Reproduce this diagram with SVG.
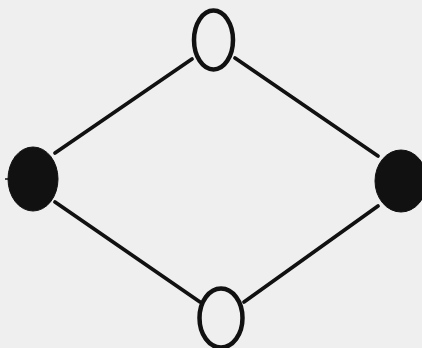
<svg xmlns="http://www.w3.org/2000/svg" width="422" height="348" viewBox="0 0 422 348">
<style>
.edge{stroke:#111;stroke-width:3.8;fill:none;stroke-linecap:round}
.open{fill:none;stroke:#111;stroke-width:4.5}
.full{fill:#111;stroke:#111;stroke-width:1}
</style>
<rect width="422" height="348" fill="#efeff0"/>
<g id="connectors">
<line class="edge" x1="192" y1="59" x2="55" y2="153"/>
<line class="edge" x1="235" y1="58" x2="378" y2="156"/>
<line class="edge" x1="55" y1="202" x2="200" y2="302"/>
<line class="edge" x1="378" y1="206" x2="244" y2="302"/>
</g>
<g id="node-top"><ellipse class="open" cx="213.5" cy="40" rx="19.5" ry="29.5"/></g>
<g id="node-left"><ellipse class="full" cx="33" cy="179" rx="25" ry="32"/><line x1="5" y1="179" x2="9" y2="179" stroke="#111" stroke-width="1.5"/></g>
<g id="node-right"><ellipse class="full" cx="401" cy="181" rx="26" ry="31"/></g>
<g id="node-bottom"><ellipse class="open" cx="221" cy="318" rx="21.5" ry="29.5"/></g>
</svg>
